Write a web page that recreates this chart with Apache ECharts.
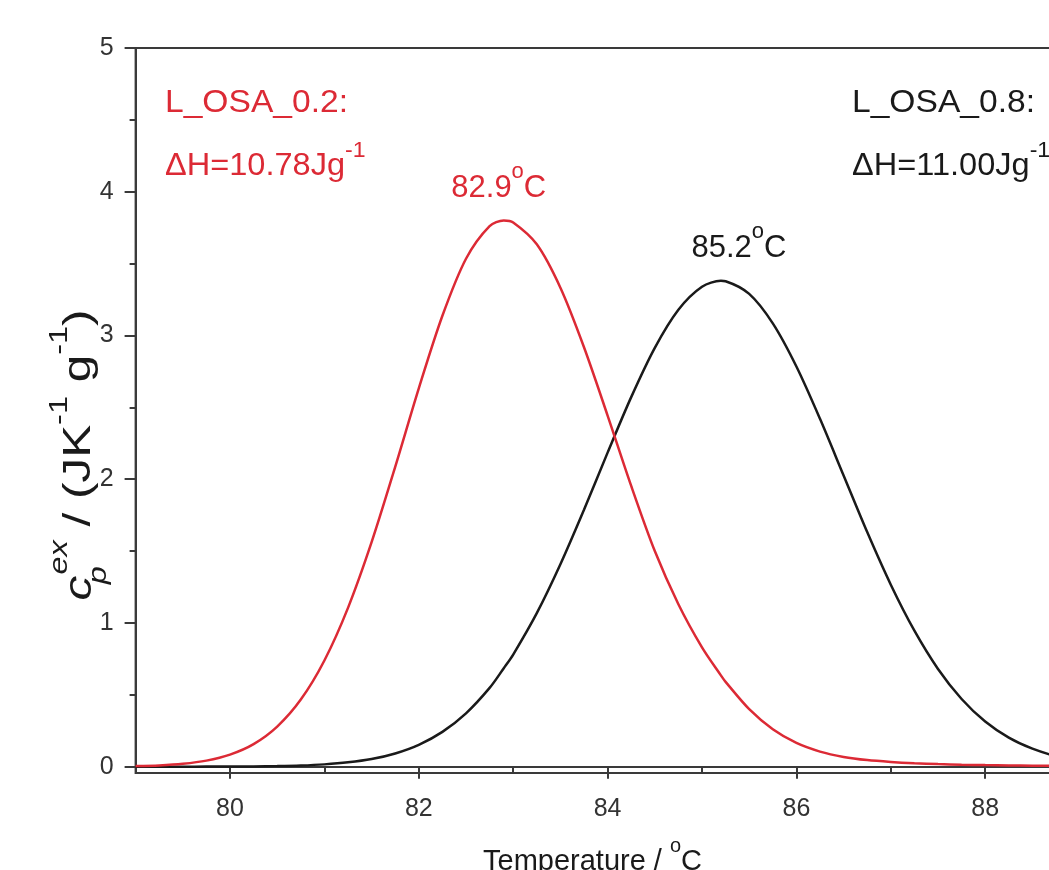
<!DOCTYPE html>
<html>
<head>
<meta charset="utf-8">
<script src="https://cdn.jsdelivr.net/npm/echarts@6/dist/echarts.min.js"></script>
<style>
  html, body { margin: 0; padding: 0; background: #fff; }
  #chart { width: 1049px; height: 870px; }
</style>
</head>
<body>
<div id="chart"></div>
<script>
// temperature (oC)
const temps = [79, 79.25, 79.5, 79.75, 80, 80.25, 80.5, 80.75, 81, 81.25, 81.5, 81.75,
  82, 82.25, 82.5, 82.75, 82.9, 83, 83.25, 83.5, 83.75, 84, 84.25, 84.5, 84.75, 85,
  85.2, 85.25, 85.5, 85.75, 86, 86.25, 86.5, 86.75, 87, 87.25, 87.5, 87.75, 88,
  88.25, 88.5, 88.75, 89]
// excess heat capacity, L_OSA_0.2 (red)
const cpOsa02 = [0.004, 0.009, 0.020, 0.042, 0.084, 0.157, 0.279, 0.467, 0.739, 1.105, 1.562, 2.086,
  2.632, 3.137, 3.534, 3.761, 3.80, 3.786, 3.634, 3.332, 2.918, 2.443, 1.953, 1.50, 1.13, 0.83,
  0.635, 0.59, 0.40, 0.26, 0.165, 0.105, 0.068, 0.046, 0.033, 0.024, 0.018, 0.014, 0.011,
  0.009, 0.007, 0.006, 0.005]
// excess heat capacity, L_OSA_0.8 (black)
const cpOsa08 = [0.0, 0.0001, 0.0002, 0.0004, 0.001, 0.002, 0.004, 0.008, 0.016, 0.030, 0.053, 0.092,
  0.152, 0.242, 0.371, 0.548, 0.685, 0.780, 1.068, 1.408, 1.787, 2.185, 2.571, 2.914, 3.179, 3.339,
  3.38, 3.377, 3.289, 3.084, 2.784, 2.420, 2.026, 1.632, 1.266, 0.946, 0.680, 0.471, 0.314,
  0.202, 0.125, 0.074, 0.043]

const peakOsa02 = [82.9, 3.8]
const peakOsa08 = [85.2, 3.38]

const xMajorTicks = [80, 82, 84, 86, 88, 90]
const xMinorTicks = [79, 81, 83, 85, 87, 89]
const yMajorTicks = [0, 1, 2, 3, 4, 5]
const yMinorTicks = [0.5, 1.5, 2.5, 3.5, 4.5]

const RED = '#dc2a35'
const BLACK = '#1a1a1a'
const AXIS = '#3a3a3a'
const FONT = 'Liberation Sans, Arial, sans-serif'

// rich styles with a raised "s" token (label version uses color, graphic version uses fill)
function labelRich(size, color) {
  return {
    n: { fontSize: size, fontFamily: FONT, color: color, lineHeight: 56, verticalAlign: 'middle' },
    s: { fontSize: Math.round(size * 0.7), fontFamily: FONT, color: color, lineHeight: 12, verticalAlign: 'top' }
  }
}
function textRich(size, color) {
  return {
    n: { fontSize: size, fontFamily: FONT, fill: color, lineHeight: 52, verticalAlign: 'middle' },
    s: { fontSize: Math.round(size * 0.7), fontFamily: FONT, fill: color, lineHeight: 16, verticalAlign: 'top' }
  }
}

const chart = echarts.init(document.getElementById('chart'))

const pair = (ys) => temps.map((t, i) => [t, ys[i]])

chart.setOption({
  animation: false,
  backgroundColor: '#fff',
  grid: {
    left: 135.6,
    top: 48,
    right: -125,
    bottom: 97,
    outerBoundsMode: 'none',
    containLabel: false,
    show: true,
    borderColor: AXIS,
    borderWidth: 2
  },
  xAxis: [{
    type: 'value',
    min: 79,
    max: 90,
    axisLine: { show: true, lineStyle: { color: AXIS, width: 2 } },
    axisTick: { show: true, customValues: xMajorTicks, length: 12, lineStyle: { color: AXIS, width: 2 } },
    axisLabel: { show: true, customValues: xMajorTicks, margin: 24, fontSize: 25, fontFamily: FONT, color: '#333' },
    splitLine: { show: false }
  }, {
    type: 'value',
    min: 79,
    max: 90,
    position: 'bottom',
    axisLine: { show: false },
    axisTick: { show: true, customValues: xMinorTicks, length: 7, lineStyle: { color: AXIS, width: 2 } },
    axisLabel: { show: false },
    splitLine: { show: false }
  }],
  yAxis: [{
    type: 'value',
    min: -0.044,
    max: 5,
    axisLine: { show: true, lineStyle: { color: AXIS, width: 2 } },
    axisTick: { show: true, customValues: yMajorTicks, length: 11, lineStyle: { color: AXIS, width: 2 } },
    axisLabel: { show: true, customValues: yMajorTicks, margin: 22, fontSize: 25, fontFamily: FONT, color: '#333' },
    splitLine: { show: false }
  }, {
    type: 'value',
    min: -0.044,
    max: 5,
    position: 'left',
    axisLine: { show: false },
    axisTick: { show: true, customValues: yMinorTicks, length: 6, lineStyle: { color: AXIS, width: 2 } },
    axisLabel: { show: false },
    splitLine: { show: false }
  }],
  series: [{
    name: 'L_OSA_0.8',
    type: 'line',
    data: pair(cpOsa08),
    smooth: 0.3,
    showSymbol: false,
    lineStyle: { color: BLACK, width: 2.5 },
    markPoint: {
      symbol: 'circle',
      symbolSize: 0,
      data: [{ coord: peakOsa08 }],
      label: {
        show: true,
        position: 'top',
        distance: 4,
        offset: [18, 0],
        formatter: () => '{n|' + peakOsa08[0].toFixed(1) + '}{s|o}{n|C}',
        rich: labelRich(31, BLACK)
      }
    }
  }, {
    name: 'L_OSA_0.2',
    type: 'line',
    data: pair(cpOsa02),
    smooth: 0.3,
    showSymbol: false,
    lineStyle: { color: RED, width: 2.5 },
    markPoint: {
      symbol: 'circle',
      symbolSize: 0,
      data: [{ coord: peakOsa02 }],
      label: {
        show: true,
        position: 'top',
        distance: 4,
        offset: [-5, 0],
        formatter: () => '{n|' + peakOsa02[0].toFixed(1) + '}{s|o}{n|C}',
        rich: labelRich(31, RED)
      }
    }
  }],
  graphic: [{
    type: 'text', x: 165, y: 103, scaleX: 1.05,
    style: { text: 'L_OSA_0.2:', fill: RED, font: '32px ' + FONT, align: 'left', verticalAlign: 'middle' }
  }, {
    type: 'text', x: 165, y: 166, scaleX: 1.05,
    style: { text: '{n|\u0394H=10.78Jg}{s|-1}', rich: textRich(31, RED), align: 'left', verticalAlign: 'middle' }
  }, {
    type: 'text', x: 852, y: 103, scaleX: 1.05,
    style: { text: 'L_OSA_0.8:', fill: BLACK, font: '32px ' + FONT, align: 'left', verticalAlign: 'middle' }
  }, {
    type: 'text', x: 852, y: 166, scaleX: 1.05,
    style: { text: '{n|\u0394H=11.00Jg}{s|-1}', rich: textRich(31, BLACK), align: 'left', verticalAlign: 'middle' }
  }, {
    // x axis title
    type: 'text', x: 483, y: 862,
    style: { text: '{n|Temperature / }{s|o}{n|C}', rich: textRich(29, BLACK), align: 'left', verticalAlign: 'middle' }
  }, {
    // y axis title, rotated
    type: 'text', x: 80, y: 455, rotation: Math.PI / 2, scaleX: 1.3,
    style: {
      text: '{c|c}{p|p}{e|ex}{n| / (JK}{s|-1}{n| g}{s|-1}{n|)}',
      align: 'center',
      verticalAlign: 'middle',
      rich: {
        c: { fontSize: 38, fontStyle: 'italic', fontFamily: FONT, fill: BLACK, lineHeight: 64, verticalAlign: 'middle' },
        p: { fontSize: 25, fontStyle: 'italic', fontFamily: FONT, fill: BLACK, lineHeight: 34, verticalAlign: 'bottom', width: 1 },
        e: { fontSize: 25, fontStyle: 'italic', fontFamily: FONT, fill: BLACK, lineHeight: 16, verticalAlign: 'top' },
        n: { fontSize: 38, fontFamily: FONT, fill: BLACK, lineHeight: 64, verticalAlign: 'middle' },
        s: { fontSize: 25, fontFamily: FONT, fill: BLACK, lineHeight: 16, verticalAlign: 'top' }
      }
    }
  }]
})
</script>
</body>
</html>
